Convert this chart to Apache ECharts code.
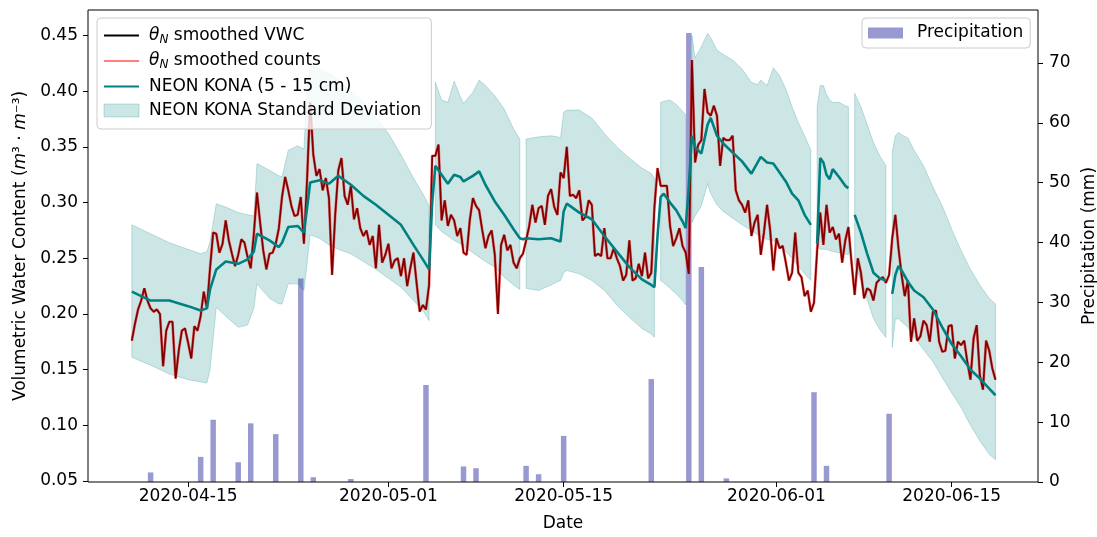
<!DOCTYPE html>
<html>
<head>
<meta charset="utf-8">
<title>VWC and precipitation</title>
<script src="https://cdn.jsdelivr.net/npm/echarts@6/dist/echarts.min.js"></script>
<style>
    html, body { margin: 0; padding: 0; background: #fff; }
    #chart { width: 1097px; height: 537px; }
</style>
</head>
<body>
<div id="chart"></div>
<script>
// theta_N smoothed VWC, one value every 6 hours starting at vwcStart
const vwcStart = '2020-04-10 12:00';
const vwcStepHours = 6;
const vwcValues = [
    0.176,0.191,0.204,0.212,0.223,0.212,0.205,0.202,0.204,0.200,
    0.153,0.185,0.193,0.193,0.142,0.167,0.185,0.187,0.174,0.160,
    0.189,0.185,0.198,0.220,0.205,0.241,0.273,0.272,0.255,0.263,
    0.284,0.266,0.254,0.243,0.253,0.267,0.264,0.251,0.241,0.272,
    0.309,0.282,0.257,0.240,0.254,0.255,0.263,0.277,0.305,0.323,
    0.311,0.297,0.288,0.289,0.305,0.263,0.320,0.390,0.343,0.324,
    0.330,0.311,0.322,0.304,0.235,0.289,0.329,0.340,0.306,0.298,
    0.315,0.285,0.295,0.277,0.270,0.275,0.262,0.270,0.241,0.280,
    0.246,0.253,0.263,0.241,0.248,0.250,0.234,0.250,0.225,0.241,
    0.255,0.228,0.202,0.208,0.204,0.226,0.342,0.342,0.352,0.284,
    0.302,0.279,0.289,0.284,0.270,0.277,0.255,0.253,0.284,0.304,
    0.297,0.293,0.275,0.259,0.270,0.275,0.253,0.200,0.262,0.271,
    0.257,0.262,0.246,0.241,0.250,0.254,0.266,0.279,0.298,0.282,
    0.295,0.297,0.280,0.306,0.312,0.296,0.289,0.327,0.322,0.350,
    0.306,0.307,0.304,0.311,0.284,0.287,0.302,0.298,0.252,0.254,
    0.252,0.277,0.250,0.250,0.259,0.250,0.243,0.230,0.235,0.266,
    0.230,0.232,0.245,0.234,0.255,0.232,0.237,0.295,0.331,0.315,
    0.315,0.315,0.279,0.261,0.268,0.277,0.261,0.255,0.236,0.428,
    0.336,0.352,0.356,0.402,0.381,0.378,0.387,0.378,0.333,0.358,
    0.356,0.356,0.360,0.311,0.302,0.298,0.291,0.302,0.270,0.282,
    0.289,0.253,0.273,0.298,0.275,0.239,0.268,0.259,0.261,0.246,
    0.230,0.237,0.273,0.237,0.233,0.216,0.221,0.202,0.210,0.257,
    0.291,0.262,0.298,0.273,0.278,0.267,0.272,0.246,0.266,0.278,
    0.246,0.217,0.250,0.237,0.214,0.223,0.221,0.212,0.228,0.231,
    0.233,0.228,0.235,0.268,0.289,0.259,0.235,0.216,0.230,0.175,
    0.196,0.176,0.180,0.194,0.190,0.175,0.202,0.203,0.175,0.166,
    0.167,0.189,0.190,0.160,0.175,0.172,0.176,0.157,0.141,0.178,
    0.190,0.145,0.132,0.176,0.167,0.151,0.141
];

// NEON KONA (5 - 15 cm): mean and mean -/+ standard deviation, null = no data
const neonTimes = [
    '2020-04-10 12:00','2020-04-12 00:00','2020-04-13 12:00','2020-04-15 00:00','2020-04-16 00:00','2020-04-16 12:00','2020-04-16 18:00','2020-04-17 06:00','2020-04-18 00:00','2020-04-19 00:00',
    '2020-04-19 18:00','2020-04-20 06:00','2020-04-20 12:00','2020-04-21 12:00','2020-04-22 06:00','2020-04-22 12:00','2020-04-23 00:00','2020-04-23 18:00','2020-04-24 06:00','2020-04-24 12:00',
    '2020-04-24 18:00','2020-04-25 12:00','2020-04-26 06:00','2020-04-27 00:00','2020-04-28 00:00','2020-04-29 00:00','2020-04-30 00:00','2020-05-01 00:00','2020-05-02 00:00','2020-05-03 00:00',
    '2020-05-03 18:00','2020-05-04 06:00','2020-05-04 12:00','2020-05-04 18:00','2020-05-05 06:00','2020-05-05 18:00','2020-05-06 06:00','2020-05-06 18:00','2020-05-07 00:00','2020-05-07 18:00',
    '2020-05-08 06:00','2020-05-08 18:00','2020-05-09 12:00','2020-05-10 06:00','2020-05-11 00:00','2020-05-11 12:00','2020-05-11 18:00','2020-05-12 00:00','2020-05-13 00:00','2020-05-14 00:00',
    '2020-05-14 12:00','2020-05-14 18:00','2020-05-15 00:00','2020-05-15 06:00','2020-05-16 06:00','2020-05-17 06:00','2020-05-18 06:00','2020-05-19 06:00','2020-05-20 06:00','2020-05-21 06:00',
    '2020-05-22 00:00','2020-05-22 06:00','2020-05-22 12:00','2020-05-22 18:00','2020-05-23 00:00','2020-05-23 12:00','2020-05-24 00:00','2020-05-24 12:00','2020-05-24 18:00','2020-05-25 00:00',
    '2020-05-25 06:00','2020-05-25 12:00','2020-05-26 00:00','2020-05-26 12:00','2020-05-26 18:00','2020-05-27 06:00','2020-05-27 18:00','2020-05-28 12:00','2020-05-29 06:00','2020-05-30 00:00',
    '2020-05-30 12:00','2020-05-30 18:00','2020-05-31 06:00','2020-05-31 18:00','2020-06-01 06:00','2020-06-01 18:00','2020-06-02 06:00','2020-06-02 18:00','2020-06-03 06:00','2020-06-03 18:00',
    '2020-06-04 00:00','2020-06-04 06:00','2020-06-04 12:00','2020-06-04 18:00','2020-06-05 00:00','2020-06-05 06:00','2020-06-05 12:00','2020-06-06 00:00','2020-06-06 12:00','2020-06-06 18:00',
    '2020-06-07 00:00','2020-06-07 06:00','2020-06-07 18:00','2020-06-08 06:00','2020-06-08 18:00','2020-06-09 06:00','2020-06-09 18:00','2020-06-10 00:00','2020-06-10 06:00','2020-06-10 12:00',
    '2020-06-10 18:00','2020-06-11 00:00','2020-06-11 12:00','2020-06-12 00:00','2020-06-12 18:00','2020-06-13 12:00','2020-06-14 06:00','2020-06-15 00:00','2020-06-15 18:00','2020-06-16 12:00',
    '2020-06-17 06:00','2020-06-18 00:00','2020-06-18 12:00'
];
const neonMean = [
    0.220,0.212,0.212,0.207,0.203,0.205,0.222,0.240,0.247,0.245,
    0.249,0.256,0.272,0.266,0.260,0.264,0.278,0.279,0.273,0.295,
    0.318,0.320,0.317,0.324,0.316,0.306,0.298,0.289,0.280,0.262,
    0.249,0.240,0.300,0.333,0.325,0.317,0.325,0.323,0.319,0.324,
    0.328,0.316,0.301,0.289,0.276,0.268,0.267,0.268,0.267,0.268,
    0.266,0.265,0.292,0.299,0.291,0.285,0.270,0.256,0.242,0.231,
    0.226,0.224,0.270,0.305,0.308,0.300,0.293,0.283,0.277,0.315,
    0.360,0.350,0.344,0.370,0.376,0.360,0.353,0.345,0.337,0.326,
    0.336,0.341,0.336,0.335,0.327,0.319,0.308,0.302,0.289,0.280,
    null,0.263,0.340,0.336,0.325,0.321,0.330,0.323,0.315,0.313,
    null,0.289,0.273,0.254,0.237,0.232,0.230,null,0.218,0.235,
    0.243,0.239,0.229,0.221,0.215,0.204,0.188,0.173,0.162,0.150,
    0.142,0.133,0.127
];
const neonLow = [
    0.161,0.154,0.146,0.141,0.139,0.138,0.150,0.206,0.198,0.188,
    0.190,0.205,0.227,0.214,0.209,0.209,0.227,0.227,0.221,0.245,
    0.271,0.268,0.262,0.258,0.254,0.247,0.240,0.232,0.224,0.212,
    0.203,0.194,null,0.280,0.274,0.270,0.266,0.263,0.261,0.255,
    0.251,0.247,0.242,0.233,0.226,0.222,null,0.223,0.221,0.226,
    0.229,0.230,0.237,0.239,0.236,0.230,0.221,0.208,0.197,0.187,
    0.182,0.179,null,0.230,0.228,0.223,0.218,0.212,0.208,null,
    0.282,0.288,0.297,0.317,0.308,0.298,0.292,0.286,0.280,0.275,
    0.271,0.269,0.267,0.266,0.262,0.256,0.250,0.243,0.236,0.230,
    null,0.260,0.258,0.258,0.258,0.257,0.256,0.255,0.254,0.253,
    null,0.245,0.230,0.213,0.196,0.186,0.179,null,0.170,0.195,
    0.196,0.193,0.188,0.179,0.168,0.157,0.143,0.129,0.116,0.100,
    0.086,0.074,0.069
];
const neonHigh = [
    0.280,0.272,0.264,0.258,0.254,0.256,0.265,0.299,0.296,0.291,
    0.289,0.288,0.335,0.329,0.324,0.323,0.347,0.351,0.348,0.400,
    0.423,0.420,0.416,0.410,0.400,0.390,0.376,0.362,0.343,0.322,
    0.308,0.297,null,0.408,0.392,0.390,0.409,0.395,0.389,0.399,
    0.410,0.405,0.396,0.384,0.366,0.357,null,0.357,0.359,0.360,
    0.359,0.358,0.381,0.383,0.383,0.376,0.362,0.350,0.340,0.331,
    0.326,0.322,null,0.390,0.391,0.392,0.388,0.382,0.379,null,
    0.450,0.430,0.440,0.452,0.448,0.437,0.433,0.428,0.420,0.408,
    0.406,0.410,0.405,0.421,0.414,0.402,0.386,0.372,0.360,0.347,
    null,0.386,0.405,0.405,0.397,0.392,0.390,0.390,0.387,0.386,
    null,0.398,0.386,0.370,0.354,0.342,0.333,null,0.345,0.360,
    0.363,0.361,0.358,0.347,0.333,0.314,0.297,0.276,0.257,0.240,
    0.226,0.214,0.209
];

// daily precipitation (mm)
const precipDates = [
    '2020-04-12','2020-04-16','2020-04-17','2020-04-19','2020-04-20','2020-04-22','2020-04-24','2020-04-25',
    '2020-04-28','2020-05-04','2020-05-07','2020-05-08','2020-05-12','2020-05-13','2020-05-15','2020-05-22',
    '2020-05-25','2020-05-26','2020-05-28','2020-06-04','2020-06-05','2020-06-10'
];
const precipValues = [
    1.6, 4.2, 10.4, 3.3, 9.8, 8.0, 34.0, 0.8,
    0.5, 16.2, 2.6, 2.3, 2.7, 1.3, 7.7, 17.2,
    75.0, 35.9, 0.6, 15.0, 2.7, 11.4
];

const dateTicks = ['2020-04-15', '2020-05-01', '2020-05-15', '2020-06-01', '2020-06-15'];
const vwcTicks = [0.05, 0.10, 0.15, 0.20, 0.25, 0.30, 0.35, 0.40, 0.45];
const precipTicks = [0, 10, 20, 30, 40, 50, 60, 70];

const FONT = "'DejaVu Sans', sans-serif";
const BAND_FILL = 'rgba(0,128,128,0.2)';
const BAND_EDGE = 'rgba(0,128,128,0.22)';

// local time parse, 'yyyy-MM-dd' or 'yyyy-MM-dd HH:mm'
function toTime(s) {
    const parts = s.split(' ');
    const d = parts[0].split('-').map(Number);
    const t = (parts[1] || '00:00').split(':').map(Number);
    return new Date(d[0], d[1] - 1, d[2], t[0], t[1]).getTime();
}
function pad(n) { return n < 10 ? '0' + n : '' + n; }

const t0 = toTime(vwcStart);
const vwcData = vwcValues.map((v, i) => [t0 + i * vwcStepHours * 3600 * 1000, v]);
const neonT = neonTimes.map(toTime);
const meanData = neonT.map((t, i) => [t, neonMean[i] == null ? '-' : neonMean[i]]);
const precipData = precipDates.map((d, i) => [toTime(d), precipValues[i]]);

// split the std band into its continuous pieces (a null breaks it)
const bandSegments = [];
let cur = null;
neonT.forEach(function (t, i) {
    if (neonLow[i] == null) { cur = null; return; }
    if (!cur) { cur = []; bandSegments.push(cur); }
    cur.push(i);
});
const bandData = bandSegments.map(function (seg) {
    const lows = seg.map(i => neonLow[i]);
    const highs = seg.map(i => neonHigh[i]);
    return [neonT[seg[0]], neonT[seg[seg.length - 1]], Math.min.apply(null, lows), Math.max.apply(null, highs)];
});

function renderBand(params, api) {
    const seg = bandSegments[params.dataIndex];
    const pts = [];
    seg.forEach(i => pts.push(api.coord([neonT[i], neonHigh[i]])));
    for (let k = seg.length - 1; k >= 0; k--) {
        const i = seg[k];
        pts.push(api.coord([neonT[i], neonLow[i]]));
    }
    return {
        type: 'polygon',
        shape: {points: pts},
        style: {fill: BAND_FILL, stroke: BAND_EDGE, lineWidth: 1}
    };
}

const legendNames = {
    'θN smoothed VWC': '{th|θ}{sub|N}{t| smoothed VWC}',
    'θN smoothed counts': '{th|θ}{sub|N}{t| smoothed counts}',
    'NEON KONA (5 - 15 cm)': '{t|NEON KONA (5 - 15 cm)}',
    'NEON KONA Standard Deviation': '{t|NEON KONA Standard Deviation}'
};

const chart = echarts.init(document.getElementById('chart'), null, {renderer: 'canvas'});

chart.setOption({
    animation: false,
    backgroundColor: '#fff',
    textStyle: {fontFamily: FONT},
    grid: {
        left: 88, right: 59, top: 10, bottom: 55,
        outerBoundsMode: 'none',
        show: true, borderColor: '#000', borderWidth: 1, backgroundColor: 'transparent'
    },
    legend: [
        {
            left: 97, top: 18, orient: 'vertical',
            padding: [9, 10, 10, 6],
            itemWidth: 35, itemHeight: 13, itemGap: 7,
            backgroundColor: 'rgba(255,255,255,0.8)',
            borderColor: '#cccccc', borderWidth: 1, borderRadius: 4,
            selectedMode: false,
            formatter: function (name) { return legendNames[name] || name; },
            textStyle: {
                fontFamily: FONT, fontSize: 17, color: '#000', padding: [0, 0, 0, 5],
                rich: {
                    th: {fontFamily: FONT, fontSize: 17, fontStyle: 'italic', color: '#000', lineHeight: 20},
                    sub: {fontFamily: FONT, fontSize: 12, fontStyle: 'italic', color: '#000', lineHeight: 10, verticalAlign: 'bottom'},
                    t: {fontFamily: FONT, fontSize: 17, color: '#000', lineHeight: 20}
                }
            },
            data: [
                {name: 'θN smoothed VWC', itemStyle: {opacity: 0}},
                {name: 'θN smoothed counts', itemStyle: {opacity: 0}},
                {name: 'NEON KONA (5 - 15 cm)', itemStyle: {opacity: 0}},
                {name: 'NEON KONA Standard Deviation', icon: 'rect',
                    itemStyle: {color: BAND_FILL, borderColor: BAND_EDGE, borderWidth: 1}}
            ]
        },
        {
            left: 862, top: 18,
            padding: [5, 7, 5, 6],
            itemWidth: 35, itemHeight: 11,
            backgroundColor: 'rgba(255,255,255,0.8)',
            borderColor: '#cccccc', borderWidth: 1, borderRadius: 4,
            selectedMode: false,
            textStyle: {fontFamily: FONT, fontSize: 17, color: '#000', lineHeight: 20, padding: [0, 0, 0, 9]},
            data: [{name: 'Precipitation', icon: 'rect'}]
        }
    ],
    xAxis: {
        // timestamps on a value axis so that the five date ticks can be placed exactly
        type: 'value',
        min: toTime('2020-04-07 00:00'),
        max: toTime('2020-06-21 21:30'),
        name: 'Date',
        nameLocation: 'middle',
        nameGap: 33,
        nameTextStyle: {fontFamily: FONT, fontSize: 17, color: '#000'},
        axisLine: {show: false},
        axisTick: {show: true, length: 5, lineStyle: {color: '#000', width: 1}, customValues: dateTicks.map(toTime)},
        axisLabel: {
            customValues: dateTicks.map(toTime),
            margin: 6, fontFamily: FONT, fontSize: 17, color: '#000',
            formatter: function (v) {
                const d = new Date(v);
                return d.getFullYear() + '-' + pad(d.getMonth() + 1) + '-' + pad(d.getDate());
            }
        },
        splitLine: {show: false}
    },
    yAxis: [
        {
            type: 'value',
            min: 0.0491, max: 0.4729,
            position: 'left',
            name: 'Volumetric Water Content ({mi|m}³ · {mi|m}⁻³)',
            nameLocation: 'middle',
            nameRotate: 90,
            nameGap: 58,
            nameTextStyle: {
                fontFamily: FONT, fontSize: 17, color: '#000',
                rich: {mi: {fontFamily: FONT, fontSize: 17, fontStyle: 'italic', color: '#000'}}
            },
            axisLine: {show: false},
            axisTick: {show: true, length: 5, lineStyle: {color: '#000', width: 1}, customValues: vwcTicks},
            axisLabel: {
                customValues: vwcTicks, margin: 10,
                fontFamily: FONT, fontSize: 17, color: '#000',
                formatter: function (v) { return v.toFixed(2); }
            },
            splitLine: {show: false}
        },
        {
            type: 'value',
            min: 0, max: 78.85,
            position: 'right',
            name: 'Precipitation (mm)',
            nameLocation: 'middle',
            nameRotate: 90,
            nameGap: 41,
            nameTextStyle: {fontFamily: FONT, fontSize: 17, color: '#000'},
            axisLine: {show: false},
            axisTick: {show: true, length: 5, lineStyle: {color: '#000', width: 1}, customValues: precipTicks},
            axisLabel: {
                customValues: precipTicks, margin: 11,
                fontFamily: FONT, fontSize: 17, color: '#000',
                formatter: function (v) { return String(Math.round(v)); }
            },
            splitLine: {show: false}
        }
    ],
    series: [
        {
            name: 'NEON KONA Standard Deviation',
            type: 'custom',
            yAxisIndex: 0,
            silent: true,
            color: BAND_FILL,
            itemStyle: {color: BAND_FILL},
            encode: {x: [0, 1], y: [2, 3]},
            renderItem: renderBand,
            data: bandData
        },
        {
            name: 'θN smoothed VWC',
            type: 'line',
            yAxisIndex: 0,
            symbol: 'none',
            color: '#000',
            lineStyle: {color: '#000', width: 1.7},
            data: vwcData
        },
        {
            name: 'θN smoothed counts',
            type: 'line',
            yAxisIndex: 0,
            symbol: 'none',
            color: 'rgba(255,0,0,0.5)',
            lineStyle: {color: 'rgba(255,0,0,0.5)', width: 2.8},
            data: vwcData
        },
        {
            name: 'NEON KONA (5 - 15 cm)',
            type: 'line',
            yAxisIndex: 0,
            symbol: 'none',
            color: '#008080',
            lineStyle: {color: '#008080', width: 2.6},
            data: meanData
        },
        {
            name: 'Precipitation',
            type: 'bar',
            yAxisIndex: 1,
            barWidth: 5.5,
            color: 'rgba(0,0,139,0.4)',
            itemStyle: {color: 'rgba(0,0,139,0.4)'},
            data: precipData
        }
    ]
});
</script>
</body>
</html>
